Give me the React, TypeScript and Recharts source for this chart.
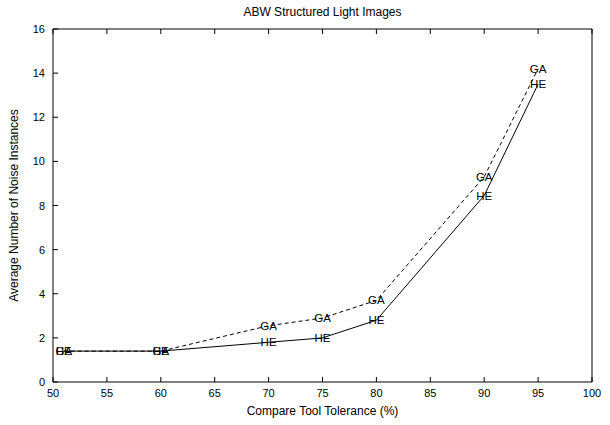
import React from 'react';
import { LineChart, Line, XAxis, YAxis } from 'recharts';

const tolerance = [51, 60, 70, 75, 80, 90, 95];
const heValues = [1.4, 1.4, 1.8, 2.0, 2.8, 8.45, 13.5];
const gaValues = [1.4, 1.4, 2.55, 2.9, 3.7, 9.3, 14.2];
const xTicks = [50, 55, 60, 65, 70, 75, 80, 85, 90, 95, 100];
const yTicks = [0, 2, 4, 6, 8, 10, 12, 14, 16];

const data = tolerance.map((t, i) => ({ t, he: heValues[i], ga: gaValues[i] }));

const FONT = '"Liberation Sans", Arial, Helvetica, sans-serif';
const TICK = 5;

const BottomTick = (props: any) => {
  const { x, y, payload } = props;
  return (
    <g>
      <line x1={x} y1={y} x2={x} y2={y - TICK} stroke="#000" />
      <text x={x} y={y + 15} textAnchor="middle" fontSize={11} fontFamily={FONT} fill="#000">
        {payload.value}
      </text>
    </g>
  );
};

const TopTick = (props: any) => {
  const { x, y } = props;
  return <line x1={x} y1={y} x2={x} y2={y + TICK} stroke="#000" />;
};

const LeftTick = (props: any) => {
  const { x, y, payload } = props;
  return (
    <g>
      <line x1={x} y1={y} x2={x + TICK} y2={y} stroke="#000" />
      <text x={x - 8} y={y + 4} textAnchor="end" fontSize={11} fontFamily={FONT} fill="#000">
        {payload.value}
      </text>
    </g>
  );
};

const RightTick = (props: any) => {
  const { x, y } = props;
  return <line x1={x} y1={y} x2={x - TICK} y2={y} stroke="#000" />;
};

const makeDot = (label: string) => (props: any) => {
  const { cx, cy, index } = props;
  return (
    <text
      key={`${label}-${index}`}
      x={cx}
      y={cy + 4}
      textAnchor="middle"
      fontSize={11.5}
      fontFamily={FONT}
      fill="#000"
    >
      {label}
    </text>
  );
};

export default function App() {
  return (
    <div style={{ position: 'absolute', left: 0, top: 0, width: 610, height: 425, background: '#fff' }}>
      <LineChart
        width={610}
        height={425}
        data={data}
        margin={{ top: 0, right: 0, bottom: 0, left: 0 }}
        style={{ fontFamily: FONT }}
      >
        <XAxis
          dataKey="t"
          type="number"
          domain={[50, 100]}
          ticks={xTicks}
          interval={0}
          height={43}
          tickSize={0}
          tickMargin={0}
          tickLine={false}
          tick={<BottomTick />}
          axisLine={{ stroke: '#000' }}
          label={{ value: 'Compare Tool Tolerance (%)', position: 'insideBottom', offset: 10, fill: '#000', fontSize: 12 }}
        />
        <XAxis
          xAxisId="top"
          orientation="top"
          dataKey="t"
          type="number"
          domain={[50, 100]}
          ticks={xTicks}
          interval={0}
          height={29}
          tickSize={0}
          tickMargin={0}
          tickLine={false}
          tick={<TopTick />}
          axisLine={{ stroke: '#000' }}
          label={{ value: 'ABW Structured Light Images', position: 'insideTop', offset: 7, fill: '#000', fontSize: 12 }}
        />
        <YAxis
          type="number"
          domain={[0, 16]}
          ticks={yTicks}
          interval={0}
          width={53}
          tickSize={0}
          tickMargin={0}
          tickLine={false}
          tick={<LeftTick />}
          axisLine={{ stroke: '#000' }}
          label={{
            value: 'Average Number of Noise Instances',
            angle: -90,
            position: 'insideLeft',
            offset: 14,
            fill: '#000',
            fontSize: 12,
            style: { textAnchor: 'middle' },
          }}
        />
        <YAxis
          yAxisId="right"
          orientation="right"
          type="number"
          domain={[0, 16]}
          ticks={yTicks}
          interval={0}
          width={18}
          tickSize={0}
          tickMargin={0}
          tickLine={false}
          tick={<RightTick />}
          axisLine={{ stroke: '#000' }}
        />
        <Line
          dataKey="ga"
          stroke="#000"
          strokeWidth={1}
          strokeDasharray="4 3"
          dot={makeDot('GA')}
          activeDot={false}
          isAnimationActive={false}
        />
        <Line
          dataKey="he"
          stroke="#000"
          strokeWidth={1}
          dot={makeDot('HE')}
          activeDot={false}
          isAnimationActive={false}
        />
      </LineChart>
    </div>
  );
}
